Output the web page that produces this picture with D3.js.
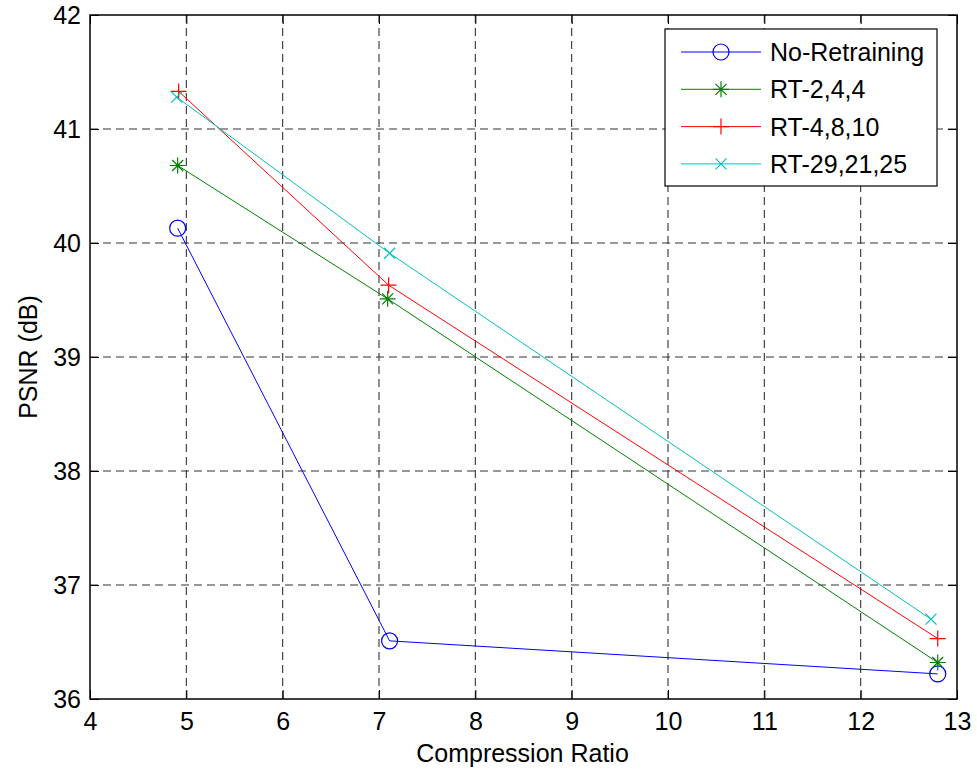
<!DOCTYPE html>
<html>
<head>
<meta charset="utf-8">
<title>PSNR vs compression ratio</title>
<style>
  body { margin: 0; background: #fff; }
  text { font-family: "Liberation Sans", Arial, sans-serif; fill: #000; }
</style>
</head>
<body>
<div id="chart"></div>
<script src="https://cdn.jsdelivr.net/npm/d3@7"></script>
<script>

// values
var seriesNames = ["No-Retraining", "RT-2,4,4", "RT-4,8,10", "RT-29,21,25"];
var noRetrainX = [4.91, 7.11, 12.80];
var noRetrainY = [40.13, 36.51, 36.22];
var rt244X = [4.91, 7.09, 12.80];
var rt244Y = [40.68, 39.51, 36.32];
var rt4810X = [4.92, 7.10, 12.80];
var rt4810Y = [41.33, 39.63, 36.53];
var rt292125X = [4.90, 7.11, 12.73];
var rt292125Y = [41.28, 39.91, 36.70];
var xTicks = [4, 5, 6, 7, 8, 9, 10, 11, 12, 13];
var yTicks = [36, 37, 38, 39, 40, 41, 42];

var colors = ["#0000ff", "#008000", "#ff0000", "#00bfbf"];
var markers = ["circle", "star", "plus", "cross"];

var W = 977, H = 774;
var pL = 90, pR = 957, pT = 15, pB = 699;
var fs = "25px";

var x = d3.scaleLinear().domain([4, 13]).range([pL, pR]);
var y = d3.scaleLinear().domain([36, 42]).range([pB, pT]);

var svg = d3.select("#chart").append("svg")
  .attr("width", W).attr("height", H);

// grid
svg.append("g").selectAll("line")
  .data(xTicks.slice(1, -1)).enter().append("line")
  .attr("x1", function(d) { return x(d); }).attr("x2", function(d) { return x(d); })
  .attr("y1", pT).attr("y2", pB)
  .attr("stroke", "#333").attr("stroke-width", 1.1).attr("stroke-dasharray", "8,5");
svg.append("g").selectAll("line")
  .data(yTicks.slice(1, -1)).enter().append("line")
  .attr("y1", function(d) { return y(d); }).attr("y2", function(d) { return y(d); })
  .attr("x1", pL).attr("x2", pR)
  .attr("stroke", "#333").attr("stroke-width", 1.1).attr("stroke-dasharray", "8,5");

// axes (ticks inward, MATLAB box style)
var tl = 9;
var xAxisB = d3.axisBottom(x).tickValues(xTicks).tickSize(-tl).tickPadding(13).tickFormat(d3.format("d"));
var xAxisT = d3.axisTop(x).tickValues(xTicks).tickSize(-tl).tickFormat("");
var yAxisL = d3.axisLeft(y).tickValues(yTicks).tickSize(-tl).tickPadding(9).tickFormat(d3.format("d"));
var yAxisR = d3.axisRight(y).tickValues(yTicks).tickSize(-tl).tickFormat("");

function style(g) {
  g.select(".domain").remove();
  g.selectAll(".tick line").attr("stroke", "#000").attr("stroke-width", 1);
  g.selectAll(".tick text").style("font-size", fs).style("font-family", "Liberation Sans, Arial, sans-serif");
}
svg.append("g").attr("transform", "translate(0," + pB + ")").call(xAxisB).call(style);
svg.append("g").attr("transform", "translate(0," + pT + ")").call(xAxisT).call(style);
svg.append("g").attr("transform", "translate(" + pL + ",0)").call(yAxisL).call(style);
svg.append("g").attr("transform", "translate(" + pR + ",0)").call(yAxisR).call(style);

svg.append("rect")
  .attr("x", pL).attr("y", pT).attr("width", pR - pL).attr("height", pB - pT)
  .attr("fill", "none").attr("stroke", "#000").attr("stroke-width", 1.5);

// axis labels
svg.append("text").attr("x", (pL + pR) / 2 - 1).attr("y", 762)
  .attr("text-anchor", "middle").style("font-size", fs).text("Compression Ratio");
svg.append("text").attr("transform", "translate(37," + ((pT + pB) / 2) + ") rotate(-90)")
  .attr("text-anchor", "middle").style("font-size", fs).text("PSNR (dB)");

function drawMarker(g, type, cx, cy, color) {
  if (type === "circle") {
    g.append("circle").attr("cx", cx).attr("cy", cy).attr("r", 8)
      .attr("fill", "none").attr("stroke", color).attr("stroke-width", 1.2);
  } else {
    var p = d3.path();
    var s = 8, d = 5.5;
    if (type === "plus" || type === "star") {
      p.moveTo(cx - s, cy); p.lineTo(cx + s, cy);
      p.moveTo(cx, cy - s); p.lineTo(cx, cy + s);
    }
    if (type === "cross" || type === "star") {
      p.moveTo(cx - d, cy - d); p.lineTo(cx + d, cy + d);
      p.moveTo(cx - d, cy + d); p.lineTo(cx + d, cy - d);
    }
    g.append("path").attr("d", p.toString()).attr("fill", "none")
      .attr("stroke", color).attr("stroke-width", 1.2);
  }
}

var series = [
  { xs: noRetrainX, ys: noRetrainY },
  { xs: rt244X, ys: rt244Y },
  { xs: rt4810X, ys: rt4810Y },
  { xs: rt292125X, ys: rt292125Y }
];

var line = d3.line().x(function(d) { return x(d[0]); }).y(function(d) { return y(d[1]); });

series.forEach(function(s, i) {
  var pts = s.xs.map(function(v, j) { return [v, s.ys[j]]; });
  var g = svg.append("g");
  g.append("path").attr("d", line(pts)).attr("fill", "none")
    .attr("stroke", colors[i]).attr("stroke-width", 1);
  pts.forEach(function(p) { drawMarker(g, markers[i], x(p[0]), y(p[1]), colors[i]); });
});

// legend
var lg = svg.append("g");
lg.append("rect").attr("x", 665).attr("y", 29).attr("width", 272).attr("height", 157)
  .attr("fill", "#fff").attr("stroke", "#000").attr("stroke-width", 1.2);
seriesNames.forEach(function(name, i) {
  var yy = 52 + i * 37.3;
  lg.append("line").attr("x1", 681).attr("x2", 761).attr("y1", yy).attr("y2", yy)
    .attr("stroke", colors[i]).attr("stroke-width", 1);
  drawMarker(lg, markers[i], 721, yy, colors[i]);
  lg.append("text").attr("x", 770).attr("y", yy + 9).style("font-size", fs).text(name);
});

</script>
</body>
</html>
